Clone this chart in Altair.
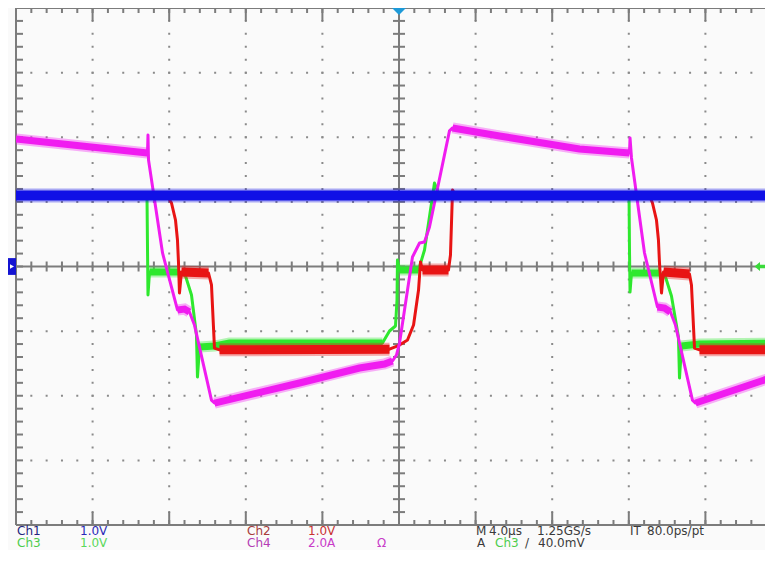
import altair as alt
import pandas as pd

# ---------------- data (time in divisions, level in divisions) ----------------
CH1_T = [0.0, 9.883]
CH1_V = [1.10, 1.10]

CH2_T = [0.0, 1.978, 2.030, 2.082, 2.108, 2.121, 2.134, 2.160, 2.513, 2.552, 2.591, 2.657,
         4.876, 5.007, 5.111, 5.190, 5.255, 5.281, 5.307, 5.646, 5.672, 5.699, 5.738,
         8.270, 8.309, 8.361, 8.387, 8.400, 8.427, 8.453, 8.792, 8.818, 8.858, 8.923, 9.883]
CH2_V = [1.095, 1.085, 0.983, 0.720, 0.410, 0.070, -0.410, -0.085, -0.101, -0.286, -1.262, -1.290,
         -1.280, -1.215, -1.138, -0.906, -0.364, 0.070, -0.054, -0.054, 0.178, 1.184, 1.095,
         1.095, 0.983, 0.720, 0.410, 0.070, -0.410, -0.085, -0.116, -0.286, -1.262, -1.290, -1.290]
CH2_BANDS = [(7, 8), (11, 12), (18, 19), (29, 30), (33, 34)]

CH3_T = [0.0, 1.710, 1.717, 1.723, 1.743, 2.134, 2.213, 2.291, 2.356, 2.369, 2.396, 2.591, 2.787,
         4.784, 4.876, 4.954, 4.974, 4.980, 5.007, 5.255, 5.333, 5.450, 5.463, 5.522,
         8.003, 8.009, 8.016, 8.035, 8.400, 8.479, 8.557, 8.648, 8.662, 8.688, 8.923, 9.883]
CH3_V = [1.110, 1.110, 0.255, -0.441, -0.085, -0.085, -0.147, -0.441, -1.060, -1.711, -1.246, -1.231, -1.184,
         -1.184, -0.998, -0.921, -0.519, 0.101, -0.054, -0.054, 0.255, 1.184, 1.293, 1.115,
         1.115, 0.255, -0.395, -0.101, -0.101, -0.163, -0.457, -1.091, -1.726, -1.231, -1.200, -1.184]
CH3_BANDS = [(4, 5), (10, 13), (18, 19), (27, 28), (33, 35)]

CH4_T = [0.0, 1.717, 1.723, 1.730, 1.913, 2.108, 2.200, 2.265, 2.330, 2.552, 2.591, 3.701,
         4.484, 4.811, 4.915, 4.967, 5.007, 5.176, 5.268, 5.333, 5.398, 5.659, 5.699, 6.312,
         7.356, 8.009, 8.016, 8.035, 8.205, 8.374, 8.466, 8.544, 8.609, 8.831, 8.871, 9.883]
CH4_V = [1.974, 1.757, 2.036, 1.649, 0.209, -0.673, -0.658, -0.704, -0.906, -2.067, -2.113, -1.803,
         -1.571, -1.509, -1.463, -1.370, -1.184, 0.147, 0.364, 0.379, 0.611, 2.098, 2.144, 2.020,
         1.819, 1.757, 1.989, 1.680, 0.209, -0.627, -0.642, -0.704, -0.906, -2.067, -2.113, -1.711]
CH4_BANDS = [(0, 1), (5, 7), (10, 14), (22, 25), (29, 31), (34, 35)]

MAJOR_X = [1, 2, 3, 4, 6, 7, 8, 9]
MAJOR_Y = [-3, -2, -1, 1, 2, 3]
MINOR_X = [round(i * 0.2, 1) for i in range(1, 49)]
MINOR_Y = [round(-4 + i * 0.2, 1) for i in range(1, 40)]

ROW1 = ["Ch1", "1.0V", "Ch2", "1.0V", "M", "4.0µs", "1.25GS/s", "IT", "80.0ps/pt"]
ROW2 = ["Ch3", "1.0V", "Ch4", "2.0A", "Ω", "A", "Ch3", "/", "40.0mV"]

# ---------------- layout ----------------
W, H = 749, 517
DIV = 76.6
XMAX = W / DIV
XC = 5 * DIV
GRID = "#7c7c7c"
BG = "#fafafa"

xs = alt.Scale(domain=[0, XMAX], nice=False, zero=False)
ys = alt.Scale(domain=[-4, 4], nice=False, zero=False)


def X(f="t"):
    return alt.X(f"{f}:Q", scale=xs, axis=None)


def Y(f="v"):
    return alt.Y(f"{f}:Q", scale=ys, axis=None)


def df_line(ts, vs):
    return pd.DataFrame({"t": ts, "v": vs, "i": list(range(len(ts)))})


def df_band(ts, vs, bands):
    rows = []
    for k, (a, b) in enumerate(bands):
        for i in range(a, b + 1):
            rows.append({"t": ts[i], "v": vs[i], "i": i, "seg": k})
    return pd.DataFrame(rows)


def trace(ts, vs, bands, color, core_w, band_w):
    out = []
    bd = df_band(ts, vs, bands)
    out.append(
        alt.Chart(bd).mark_line(
            color=color, strokeWidth=band_w + 4, opacity=0.35, clip=True, strokeCap="butt"
        ).encode(x=X(), y=Y(), detail="seg:N", order="i:Q")
    )
    out.append(
        alt.Chart(bd).mark_line(
            color=color, strokeWidth=band_w, clip=True, strokeCap="butt"
        ).encode(x=X(), y=Y(), detail="seg:N", order="i:Q")
    )
    out.append(
        alt.Chart(df_line(ts, vs)).mark_line(
            color=color, strokeWidth=core_w, clip=True, strokeJoin="round"
        ).encode(x=X(), y=Y(), order="i:Q")
    )
    return out


layers = []

# dotted graticule
layers.append(
    alt.Chart(pd.DataFrame({"t": MAJOR_X})).mark_rule(
        color="#8a8a8a", strokeWidth=2, strokeDash=[2, 10.925], strokeDashOffset=1
    ).encode(x=X(), y=alt.value(0), y2=alt.value(H))
)
layers.append(
    alt.Chart(pd.DataFrame({"v": MAJOR_Y})).mark_rule(
        color="#8a8a8a", strokeWidth=2, strokeDash=[2, 13.32], strokeDashOffset=1
    ).encode(y=Y(), x=alt.value(0), x2=alt.value(W))
)

# border and center cross
EDGE_X = pd.DataFrame({"t": [0, 5]})
EDGE_Y = pd.DataFrame({"v": [4, 0, -4]})
layers.append(alt.Chart(EDGE_X).mark_rule(color=GRID, strokeWidth=2).encode(
    x=X(), y=alt.value(0), y2=alt.value(H)))
layers.append(alt.Chart(EDGE_Y).mark_rule(color=GRID, strokeWidth=2).encode(
    y=Y(), x=alt.value(0), x2=alt.value(W)))

# ticks
mx = alt.Chart(pd.DataFrame({"t": MINOR_X}))
Mx = alt.Chart(pd.DataFrame({"t": MAJOR_X}))
my = alt.Chart(pd.DataFrame({"v": MINOR_Y}))
tick = dict(color=GRID, strokeWidth=2)
layers.append(mx.mark_rule(**tick).encode(x=X(), y=alt.value(0), y2=alt.value(5)))
layers.append(Mx.mark_rule(**tick).encode(x=X(), y=alt.value(0), y2=alt.value(13)))
layers.append(mx.mark_rule(**tick).encode(x=X(), y=alt.value(H - 5), y2=alt.value(H)))
layers.append(Mx.mark_rule(**tick).encode(x=X(), y=alt.value(H - 13), y2=alt.value(H)))
layers.append(mx.mark_rule(**tick).encode(x=X(), y=alt.value(H / 2 - 5), y2=alt.value(H / 2 + 5)))
layers.append(my.mark_rule(**tick).encode(y=Y(), x=alt.value(0), x2=alt.value(7)))
layers.append(my.mark_rule(**tick).encode(y=Y(), x=alt.value(XC - 6), x2=alt.value(XC + 6)))

# traces: Ch3 (green), Ch2 (red), Ch4 (magenta), Ch1 (blue)
layers += trace(CH3_T, CH3_V, CH3_BANDS, "#2ee82e", 3, 7)
layers += trace(CH2_T, CH2_V, CH2_BANDS, "#e81414", 3, 9)
layers += trace(CH4_T, CH4_V, CH4_BANDS, "#f01cf0", 3, 7)
layers += trace(CH1_T, CH1_V, [(0, 1)], "#1010e6", 3, 10)

# markers
layers.append(alt.Chart(pd.DataFrame({"v": [0.13], "v2": [-0.13]})).mark_rect(color="#1414d2").encode(
    x=alt.value(-9), x2=alt.value(0), y=Y(), y2="v2:Q"))
layers.append(alt.Chart(pd.DataFrame({"v": [0]})).mark_point(
    shape="triangle-right", filled=True, color="white", size=22, opacity=1).encode(
    x=alt.value(-4), y=Y()))
layers.append(alt.Chart(pd.DataFrame({"t": [5]})).mark_point(
    shape="M-1,-0.5L1,-0.5L0,0.5Z", filled=True, color="#1e9ad8", size=196, opacity=1).encode(
    x=X(), y=alt.value(3.5)))
layers.append(alt.Chart(pd.DataFrame({"v": [0]})).mark_point(
    shape="M-1,0L0,-0.8L0,-0.3L1,-0.3L1,0.3L0,0.3L0,0.8Z", filled=True,
    color="#3ada3a", size=121, opacity=1).encode(x=alt.value(W - 5), y=Y()))

# bottom readout text
TXT = dict(font="DejaVu Sans", fontSize=12, align="left", baseline="alphabetic")
r1x = [1, 64, 231, 292, 460, 473, 521, 614, 631]
r1c = ["#24247e", "#2a2ab8", "#a83c3c", "#c83232", "#3a3a3a", "#3a3a3a", "#3a3a3a", "#3a3a3a", "#3a3a3a"]
r2x = [1, 64, 231, 292, 361, 461, 479, 509, 522]
r2c = ["#4ccc4c", "#5ad85a", "#b43cb4", "#c83cc8", "#c83cc8", "#3a3a3a", "#4ccc4c", "#3a3a3a", "#3a3a3a"]
txt_rows = []
for s, x, c in zip(ROW1, r1x, r1c):
    txt_rows.append({"s": s, "x": x, "y": 526.5, "c": c})
for s, x, c in zip(ROW2, r2x, r2c):
    txt_rows.append({"s": s, "x": x, "y": 538.5, "c": c})
for r in txt_rows:
    layers.append(alt.Chart(pd.DataFrame({"s": [r["s"]]})).mark_text(color=r["c"], **TXT).encode(
        text="s:N", x=alt.value(r["x"]), y=alt.value(r["y"])))

chart = alt.layer(*layers).properties(
    width=W, height=H,
    autosize=alt.AutoSizeParams(type="none"),
    padding={"left": 8, "top": 0, "right": 0, "bottom": 25},
    background=BG,
).configure_view(stroke=None)

chart.save("out.html", embed_options={"renderer": "svg", "actions": False})
